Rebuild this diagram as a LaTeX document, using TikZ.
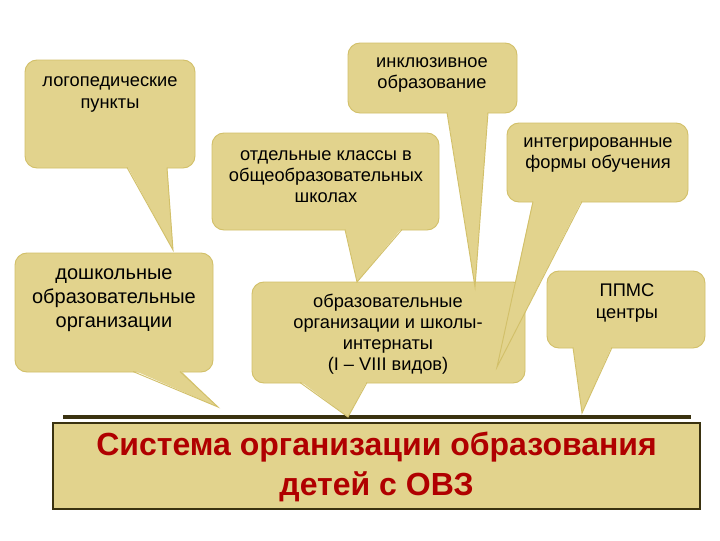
\documentclass[tikz,border=0pt]{standalone}
\usepackage{fontspec}
\setmainfont{Liberation Sans}
\usepackage{tikz}

\definecolor{bubblefill}{RGB}{226,211,141}
\definecolor{bubbleline}{RGB}{210,192,105}
\definecolor{boxline}{RGB}{58,50,16}
\definecolor{titlered}{RGB}{176,0,0}

\begin{document}
\begin{tikzpicture}[x=0.75pt,y=0.75pt,yscale=-1,xscale=1,
    bubble/.style={draw=bubbleline, fill=bubblefill, line width=0.7pt, rounded corners=9pt},
    tailfill/.style={fill=bubblefill},
    tailside/.style={draw=bubbleline, line width=0.7pt, line join=miter},
    bubbletext/.style={inner sep=0.75pt, align=center, font=\fontsize{13.7}{15.8}\selectfont},
    bigtext/.style={inner sep=0.75pt, align=center, font=\fontsize{15}{18}\selectfont},
    titletext/.style={inner sep=0.75pt, align=center, text=titlered, font=\fontsize{24}{30}\selectfont\bfseries}]
    \useasboundingbox (0,0) rectangle (720,540);
    \fill[white] (0,0) rectangle (720,540);

    %Straight Lines [id:line]
    \draw [color=boxline, line width=2.3pt] (63,417) -- (691,417) ;
    %Shape: Rectangle [id:box]
    \draw [color=boxline, fill=bubblefill, line width=2pt] (53,423) rectangle (700,509) ;
    % Text Node
    \node [titletext] (sistema) at (376.5,467) {Система организации образования\\детей с ОВЗ};

    %Shape: Callout [id:doshk]
    \coordinate (doshkTip) at (218,407);
    \draw [bubble] (15,253) rectangle (213,372) ;
    \fill [tailfill] (133,370) -- (doshkTip) -- (180,370) -- cycle ;
    \draw [tailside] (133,371.5) -- (doshkTip) -- (180,371.5) ;
    % Text Node
    \node [bigtext] (doshk) at (114,300) {дошкольные\\образовательные\\организации};

    %Shape: Callout [id:obrorg]
    \coordinate (obrorgTip) at (348,417);
    \draw [bubble] (252,282) rectangle (525,383) ;
    \fill [tailfill] (300,381) -- (obrorgTip) -- (367,381) -- cycle ;
    \draw [tailside] (300,382.5) -- (obrorgTip) -- (367,382.5) ;
    % Text Node
    \node [bubbletext] (obrorg) at (388,334) {образовательные\\организации и школы-\\интернаты\\(I – VIII видов)};

    %Shape: Callout [id:ppms]
    \coordinate (ppmsTip) at (582,413);
    \draw [bubble] (547,271) rectangle (705,348) ;
    \fill [tailfill] (573,346) -- (ppmsTip) -- (612,346) -- cycle ;
    \draw [tailside] (573,347.5) -- (ppmsTip) -- (612,347.5) ;
    % Text Node
    \node [bubbletext] (ppms) at (627,303) {ППМС\\центры};

    %Shape: Callout [id:logo]
    \coordinate (logoTip) at (173,250);
    \draw [bubble] (25,60) rectangle (195,168) ;
    \fill [tailfill] (127,166) -- (logoTip) -- (167,166) -- cycle ;
    \draw [tailside] (127,167.5) -- (logoTip) -- (167,167.5) ;
    % Text Node
    \node [bubbletext] (logo) at (110,94.5) {логопедические\\пункты};

    %Shape: Callout [id:otdel]
    \coordinate (otdelTip) at (357,282);
    \draw [bubble] (212,133) rectangle (439,230) ;
    \fill [tailfill] (345,228) -- (otdelTip) -- (402,228) -- cycle ;
    \draw [tailside] (345,229.5) -- (otdelTip) -- (402,229.5) ;
    % Text Node
    \node [bubbletext] (otdel) at (326,177) {отдельные классы в\\общеобразовательных\\школах};

    %Shape: Callout [id:inkl]
    \coordinate (inklTip) at (475,287);
    \draw [bubble] (348,43) rectangle (517,113) ;
    \fill [tailfill] (447,111) -- (inklTip) -- (488,111) -- cycle ;
    \draw [tailside] (447,112.5) -- (inklTip) -- (488,112.5) ;
    % Text Node
    \node [bubbletext] (inkl) at (432,75) {инклюзивное\\образование};

    %Shape: Callout [id:integr]
    \coordinate (integrTip) at (497,367);
    \draw [bubble] (507,123) rectangle (688,202) ;
    \fill [tailfill] (533,200) -- (integrTip) -- (582,200) -- cycle ;
    \draw [tailside] (533,201.5) -- (integrTip) -- (582,201.5) ;
    % Text Node
    \node [bubbletext] (integr) at (598,155) {интегрированные\\формы обучения};

\end{tikzpicture}
\end{document}
